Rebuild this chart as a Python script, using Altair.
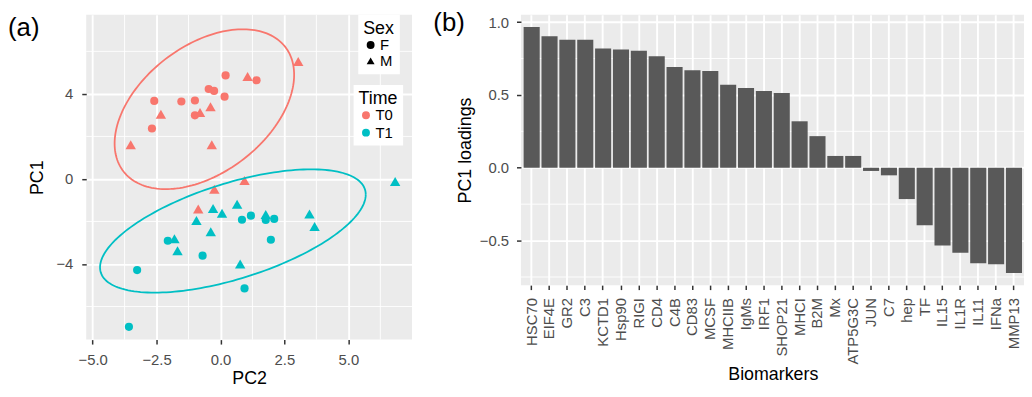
import altair as alt
import numpy as np
import pandas as pd

# ---------------- Panel (a): PCA scores ----------------
t0f_pc2 = [0.20, 1.41, -0.46, -0.25, 0.16, -2.59, -1.53, -1.00, -1.00, -2.68]
t0f_pc1 = [4.87, 4.64, 4.23, 4.14, 3.87, 3.67, 3.64, 3.69, 2.99, 2.37]
t0m_pc2 = [3.04, 1.06, -0.39, -2.33, -0.80, -3.51, -0.34, 0.94, -0.24, -0.87]
t0m_pc1 = [5.52, 4.82, 3.39, 3.04, 3.13, 1.61, 1.61, -0.08, -0.49, -1.42]
t1f_pc2 = [1.19, 0.84, 1.77, 2.10, 1.97, -2.06, -0.70, -3.26, 0.94, -3.58]
t1f_pc1 = [-1.73, -1.92, -1.93, -1.88, -2.86, -2.91, -3.61, -4.29, -5.15, -6.96]
t1m_pc2 = [6.83, 0.65, -0.29, 0.06, 1.77, 3.48, 3.68, -0.94, -0.38, -1.80, -1.68, 0.77]
t1m_pc1 = [-0.12, -1.19, -1.39, -1.61, -1.67, -1.65, -2.24, -1.96, -2.48, -2.82, -3.38, -4.00]

# 95% ellipse geometry per group (centre, half extents, correlation)
ell_time = ["T0", "T1"]
ell_cx = [-0.63, 0.485]
ell_cy = [3.28, -2.45]
ell_hx = [3.51, 5.195]
ell_hy = [3.76, 2.90]
ell_rho = [0.43, 0.59]

time_domain = ["T0", "T1"]
time_colors = ["#F8766D", "#00BFC4"]
sex_domain = ["F", "M"]
sex_shapes = ["circle", "triangle-up"]

a_xticks = [-5.0, -2.5, 0.0, 2.5, 5.0]
a_xminor = [-3.75, -1.25, 1.25, 3.75, 6.25]
a_yticks = [-4, 0, 4]
a_yminor = [-6, -2, 2, 6]

# ---------------- Panel (b): PC1 loadings ----------------
markers = ["HSC70", "EIF4E", "GR2", "C3", "KCTD1", "Hsp90", "RIGI", "CD4", "C4B",
           "CD83", "MCSF", "MHCIIB", "IgMs", "IRF1", "SHOP21", "MHCI", "B2M", "Mx",
           "ATP5G3C", "JUN", "C7", "hep", "TF", "IL15", "IL1R", "IL11", "IFNa", "MMP13"]
loadings = [0.966, 0.903, 0.878, 0.878, 0.819, 0.812, 0.803, 0.765, 0.692,
            0.670, 0.665, 0.569, 0.547, 0.527, 0.513, 0.319, 0.217, 0.081,
            0.081, -0.022, -0.052, -0.215, -0.394, -0.534, -0.584, -0.656, -0.663, -0.722]
b_yticks = [-0.5, 0.0, 0.5, 1.0]
b_yminor = [-0.75, -0.25, 0.25, 0.75]

FONT = "Liberation Sans"

# ---- build tables ----
def frame(p2, p1, s, t):
    return pd.DataFrame({"PC2": p2, "PC1": p1, "Sex": s, "Time": t})

pts_f = pd.concat([frame(t0f_pc2, t0f_pc1, "F", "T0"), frame(t1f_pc2, t1f_pc1, "F", "T1")])
pts_m = pd.concat([frame(t0m_pc2, t0m_pc1, "M", "T0"), frame(t1m_pc2, t1m_pc1, "M", "T1")])

erows = []
tt = np.linspace(0, 2 * np.pi, 181)
for g, cx, cy, hx, hy, r in zip(ell_time, ell_cx, ell_cy, ell_hx, ell_hy, ell_rho):
    xs = cx + hx * np.cos(tt)
    ys = cy + hy * (r * np.cos(tt) + np.sqrt(1 - r * r) * np.sin(tt))
    for i, (a, b) in enumerate(zip(xs, ys)):
        erows.append({"PC2": float(a), "PC1": float(b), "Time": g, "i": i})
ell = pd.DataFrame(erows)

xscale_a = alt.Scale(domain=[-5.25, 7.49], nice=False, zero=False)
yscale_a = alt.Scale(domain=[-7.56, 7.72], nice=False, zero=False)

x_a = alt.X("PC2:Q", scale=xscale_a,
            axis=alt.Axis(title="PC2", values=a_xticks, format=".1f",
                          labelPadding=9, titleY=44.5, titleBaseline="alphabetic"))
y_a = alt.Y("PC1:Q", scale=yscale_a,
            axis=alt.Axis(title="PC1", values=a_yticks, labelPadding=9, titlePadding=10))
color_a = alt.Color("Time:N", scale=alt.Scale(domain=time_domain, range=time_colors),
                    legend=alt.Legend(title="Time", orient="none", legendX=270, legendY=71,
                                      fillColor="white", padding=5, symbolSize=64,
                                      symbolType="circle", titlePadding=0, rowPadding=1.5,
                                      labelOffset=2, symbolStrokeWidth=0))
shape_a = alt.Shape("Sex:N", scale=alt.Scale(domain=sex_domain, range=sex_shapes),
                    legend=alt.Legend(title="Sex", orient="none", legendX=274.7, legendY=0,
                                      fillColor="white", padding=5, symbolSize=64,
                                      symbolFillColor="black", symbolStrokeColor="black",
                                      titlePadding=0, rowPadding=0, labelOffset=2,
                                      symbolStrokeWidth=0))

minor_x_a = alt.Chart(pd.DataFrame({"PC2": a_xminor})).mark_rule(
    color="white", strokeWidth=0.9).encode(x=alt.X("PC2:Q", scale=xscale_a))
minor_y_a = alt.Chart(pd.DataFrame({"PC1": a_yminor})).mark_rule(
    color="white", strokeWidth=0.9).encode(y=alt.Y("PC1:Q", scale=yscale_a))

circles = alt.Chart(pts_f).mark_point(filled=True, opacity=1, strokeWidth=0, size=68).encode(
    x=x_a, y=y_a, color=color_a, shape=shape_a)
triangles = alt.Chart(pts_m).mark_point(filled=True, opacity=1, strokeWidth=0, size=110).encode(
    x=x_a, y=y_a, color=color_a, shape=shape_a)

ellipses = alt.Chart(ell).mark_line(strokeWidth=1.8).encode(
    x=alt.X("PC2:Q", scale=xscale_a),
    y=alt.Y("PC1:Q", scale=yscale_a),
    stroke=alt.Stroke("Time:N", scale=alt.Scale(domain=time_domain, range=time_colors),
                      legend=None),
    order=alt.Order("i:Q"),
)

label_a = alt.Chart(pd.DataFrame({"lab": ["(a)"]})).mark_text(
    align="left", baseline="top", fontSize=26, font=FONT, color="black").encode(
    text="lab:N", x=alt.value(-79), y=alt.value(0))

panel_a = alt.layer(minor_x_a, minor_y_a, circles, triangles, ellipses, label_a).properties(
    width=329, height=328)

# ---- panel b ----
bars_df = pd.DataFrame({"Biomarker": markers, "loading": loadings})
yscale_b = alt.Scale(domain=[-0.806, 1.05], nice=False, zero=False)

minor_y_b = alt.Chart(pd.DataFrame({"loading": b_yminor})).mark_rule(
    color="white", strokeWidth=0.9).encode(y=alt.Y("loading:Q", scale=yscale_b))

bars = alt.Chart(bars_df).mark_bar(color="#595959").encode(
    x=alt.X("Biomarker:N", sort=markers,
            scale=alt.Scale(paddingInner=0.1, paddingOuter=0.15),
            axis=alt.Axis(title="Biomarkers", labelAngle=270, grid=True, bandPosition=0.5,
                          labelPadding=8, titleY=95.3, titleBaseline="alphabetic")),
    y=alt.Y("loading:Q", scale=yscale_b,
            axis=alt.Axis(title="PC1 loadings", values=b_yticks, format=".1f",
                          labelPadding=8, titlePadding=5)),
)

label_b = alt.Chart(pd.DataFrame({"lab": ["(b)"]})).mark_text(
    align="left", baseline="top", fontSize=26, font=FONT, color="black").encode(
    text="lab:N", x=alt.value(-88.5), y=alt.value(-4.2))

panel_b = alt.layer(minor_y_b, bars, label_b).properties(width=508.7, height=273)

chart = alt.hconcat(panel_a, panel_b, spacing=20).properties(
    padding={"left": 0, "top": 0, "right": -2, "bottom": 0}
).configure_view(
    fill="#EBEBEB", stroke=None
).configure_axis(
    domain=False, grid=True, gridColor="white", gridWidth=1.9,
    tickColor="#333333", tickWidth=1.5, tickSize=4.5,
    labelColor="#4D4D4D", labelFont=FONT, labelFontSize=15,
    titleFont=FONT, titleFontSize=18, titleFontWeight="normal", titleColor="black",
).configure_legend(
    titleFont=FONT, titleFontSize=18, titleFontWeight="normal", titleColor="black",
    labelFont=FONT, labelFontSize=15, labelColor="black",
).configure_text(font=FONT)

chart.save("out.html", embed_options={"renderer": "svg", "actions": False})
